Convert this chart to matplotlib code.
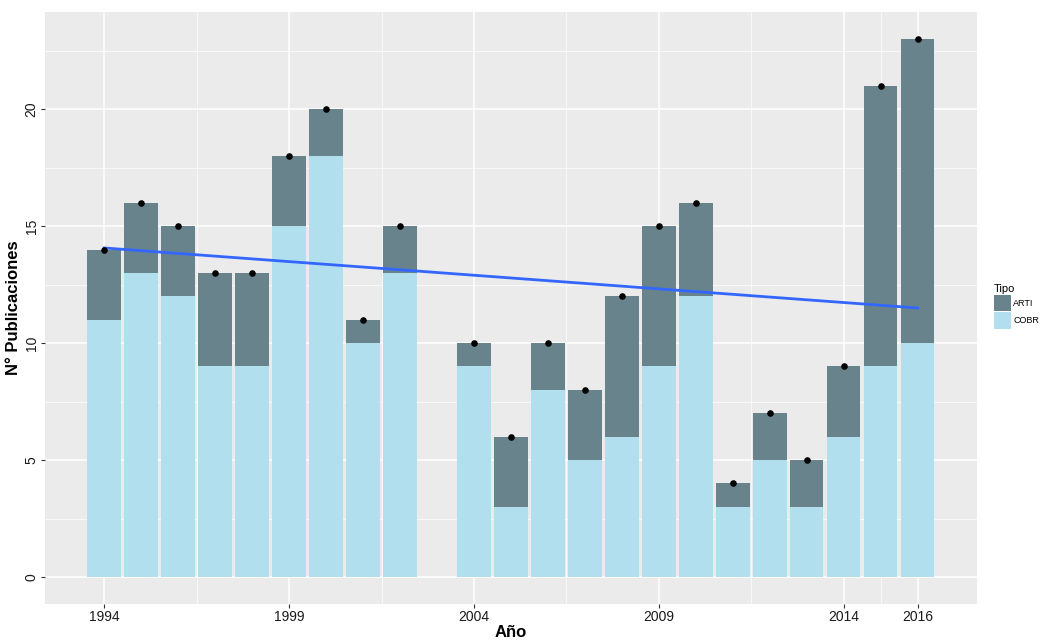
import numpy as np
import matplotlib.pyplot as plt
from matplotlib.patches import Patch

# Data (2003 has no publications)
years = [1994, 1995, 1996, 1997, 1998, 1999, 2000, 2001, 2002,
         2004, 2005, 2006, 2007, 2008, 2009, 2010, 2011, 2012, 2013, 2014, 2015, 2016]
cobr = [11, 13, 12, 9, 9, 15, 18, 10, 13,
        9, 3, 8, 5, 6, 9, 12, 3, 5, 3, 6, 9, 10]
arti = [3, 3, 3, 4, 4, 3, 2, 1, 2,
        1, 3, 2, 3, 6, 6, 4, 1, 2, 2, 3, 12, 13]
x_ticks = [1994, 1999, 2004, 2009, 2014, 2016]
y_ticks = [0, 5, 10, 15, 20]

col_arti = '#68838B'
col_cobr = '#B2DFEE'
bg = '#EBEBEB'

plt.rcParams['font.family'] = ['Liberation Sans', 'DejaVu Sans']

years = np.array(years)
cobr = np.array(cobr)
arti = np.array(arti)
total = cobr + arti

fig = plt.figure(figsize=(10.43, 6.42), dpi=100)
ax = fig.add_axes([0.0431, 0.0592, 0.8936, 0.9221])
ax.set_facecolor(bg)

ax.bar(years, cobr, width=0.9, color=col_cobr, edgecolor='none', zorder=2)
ax.bar(years, arti, bottom=cobr, width=0.9, color=col_arti, edgecolor='none', zorder=2)
ax.scatter(years, total, s=14, color='black', zorder=4)

# linear trend (lm) of totals over years
b, a = np.polyfit(years, total, 1)
xs = np.array([years.min(), years.max()])
ax.plot(xs, a + b * xs, color='#3366FF', lw=2, zorder=3)

ax.set_xlim(1992.4, 2017.6)
ax.set_ylim(-1.15, 24.15)
ax.set_xticks(x_ticks)
ax.set_yticks(y_ticks)
ax.set_xticks([1996.5, 2001.5, 2006.5, 2011.5, 2015], minor=True)
ax.set_yticks([2.5, 7.5, 12.5, 17.5, 22.5], minor=True)
ax.grid(which='major', color='white', lw=1.1, zorder=0)
ax.grid(which='minor', color='white', lw=0.5, zorder=0)
ax.set_axisbelow(True)
for s in ax.spines.values():
    s.set_visible(False)

ax.tick_params(which='major', length=3, color='#333333', labelsize=10,
               labelcolor='#1a1a1a', pad=1.5)
ax.tick_params(which='minor', length=0)
plt.setp(ax.get_yticklabels(), rotation=90, va='center')

ax.set_xlabel('Año', fontsize=12, fontweight='bold', labelpad=0.5)
ax.set_ylabel('N° Publicaciones', fontsize=12, fontweight='bold', labelpad=3)

handles = [Patch(facecolor=col_arti, label='ARTI'), Patch(facecolor=col_cobr, label='COBR')]
leg = fig.legend(handles=handles, title='Tipo', loc='upper left',
                 bbox_to_anchor=(0.947, 0.568), frameon=False, fontsize=6.5,
                 title_fontsize=8, handlelength=1.85, handleheight=2.45,
                 handletextpad=0.3, labelspacing=0.12, borderpad=0.2)
leg._legend_box.align = 'left'

fig.savefig('out.png', dpi=100)
